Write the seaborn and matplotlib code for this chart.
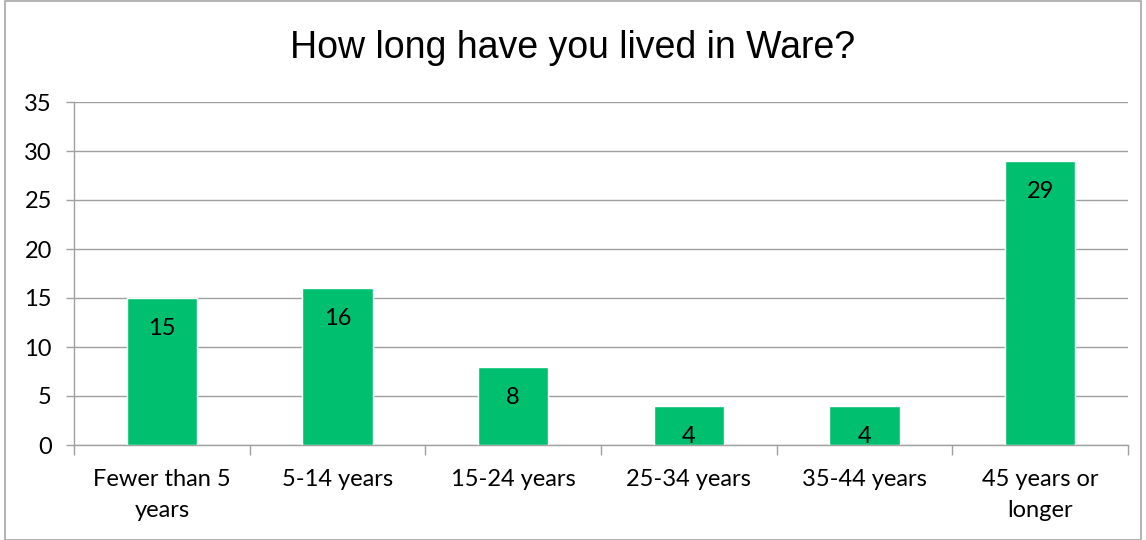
import matplotlib
matplotlib.use("Agg")
import matplotlib.pyplot as plt
import seaborn as sns
import pandas as pd
from matplotlib.patches import Rectangle

categories = ["Fewer than 5\nyears", "5-14 years", "15-24 years", "25-34 years", "35-44 years", "45 years or\nlonger"]
values = [15, 16, 8, 4, 4, 29]
yticks = [0, 5, 10, 15, 20, 25, 30, 35]
title = "How long have you lived in Ware?"

sns.set_theme(style="white")
plt.rcParams['font.family'] = ['Lato', 'DejaVu Sans']

df = pd.DataFrame({"cat": categories, "val": values})

fig = plt.figure(figsize=(11.46, 5.4), dpi=100)
ax = fig.add_axes([74/1146, 95/540, (1128-74)/1146, (445-102)/540])

sns.barplot(data=df, x="cat", y="val", color="#00BF6F", width=0.4, saturation=1, ax=ax, zorder=3)

ax.set_ylim(0, 35)
ax.set_xlim(-0.5, len(categories) - 0.5)
ax.set_yticks(yticks)
ax.set_yticklabels([str(t) for t in yticks], fontsize=17, color="#000000")
ax.set_xticks(range(len(categories)))
ax.set_xticklabels(categories, fontsize=17, color="#000000", linespacing=1.6)
ax.set_xlabel("")
ax.set_ylabel("")

ax.yaxis.grid(True, color="#A0A0A0", linewidth=1.0, zorder=0)
ax.set_axisbelow(True)
for s in ["top", "right"]:
    ax.spines[s].set_visible(False)
ax.spines["left"].set_color("#A0A0A0")
ax.spines["bottom"].set_color("#A0A0A0")
ax.spines["left"].set_linewidth(1.0)
ax.spines["bottom"].set_linewidth(1.0)

ax.tick_params(axis="y", which="major", left=True, length=6, color="#A0A0A0", width=1, pad=10)
ax.set_xticks([i + 0.5 for i in range(-1, len(categories))], minor=True)
ax.tick_params(axis="x", which="major", bottom=False, pad=11)
ax.tick_params(axis="x", which="minor", bottom=True, length=7, color="#A0A0A0", width=1)

for i, v in enumerate(values):
    ax.annotate(str(v), xy=(i, v), xytext=(0, -22), textcoords="offset points",
                ha="center", va="center", fontsize=17, color="#000000")

fig.text(0.5, 1 - 48/540, title, ha="center", va="center", fontsize=27,
         family=["Liberation Sans", "DejaVu Sans"], color="#000000")

fig.patches.append(Rectangle((5/1146, 0), 1 - 10/1146, 1 - 1/540, transform=fig.transFigure,
                             fill=False, edgecolor="#A6A6A6", linewidth=1.2))

fig.savefig("out.png", dpi=100)
